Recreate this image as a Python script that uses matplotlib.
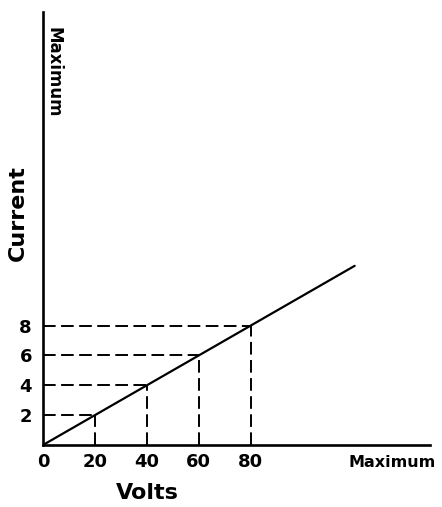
import matplotlib
matplotlib.use("Agg")
import matplotlib.pyplot as plt

# readings marked on the graph
volts = [20, 40, 60, 80]
current = [2, 4, 6, 8]

# straight line through the origin (current proportional to volts)
line_volts = [0, 120]
line_current = [0, 12]

# extent of the drawn axes
volts_max = 149
current_max = 29

fig = plt.figure(figsize=(4.42, 5.07), dpi=100)
ax = fig.add_axes([43 / 442, 62 / 507, 387 / 442, 433 / 507])
ax.set_xlim(0, volts_max)
ax.set_ylim(0, current_max)

for side in ("top", "right"):
    ax.spines[side].set_visible(False)
for side in ("left", "bottom"):
    ax.spines[side].set_linewidth(1.9)

ax.plot(line_volts, line_current, color="black", lw=1.6, solid_capstyle="round")

# dashed guides from each reading to both axes
for v, c in zip(volts, current):
    ax.plot([0, v], [c, c], color="black", lw=1.4, dashes=(6.5, 2.8))
    ax.plot([v, v], [0, c], color="black", lw=1.4, dashes=(6.5, 2.8))

ax.set_xticks([0] + volts)
ax.set_xticklabels([str(v) for v in [0] + volts])
ax.set_yticks(current)
ax.set_yticklabels([str(c) for c in current])
ax.tick_params(axis="both", length=0, labelsize=13)
ax.tick_params(axis="x", pad=6)
ax.tick_params(axis="y", pad=8)
for lbl in ax.get_xticklabels() + ax.get_yticklabels():
    lbl.set_fontweight("bold")

ax.text(0.27, -0.11, "Volts", transform=ax.transAxes, ha="center", va="center",
        fontsize=16, fontweight="bold")
ax.text(-0.066, 0.535, "Current", transform=ax.transAxes, ha="center", va="center",
        rotation=90, fontsize=16, fontweight="bold")
ax.text(0.902, -0.04, "Maximum", transform=ax.transAxes, ha="center", va="center",
        fontsize=11.5, fontweight="bold", clip_on=False)
ax.text(0.6, current_max - 1.0, "Maximum", ha="left", va="top", rotation=270,
        fontsize=12, fontweight="bold", clip_on=False)

fig.savefig("out.png", dpi=100)
